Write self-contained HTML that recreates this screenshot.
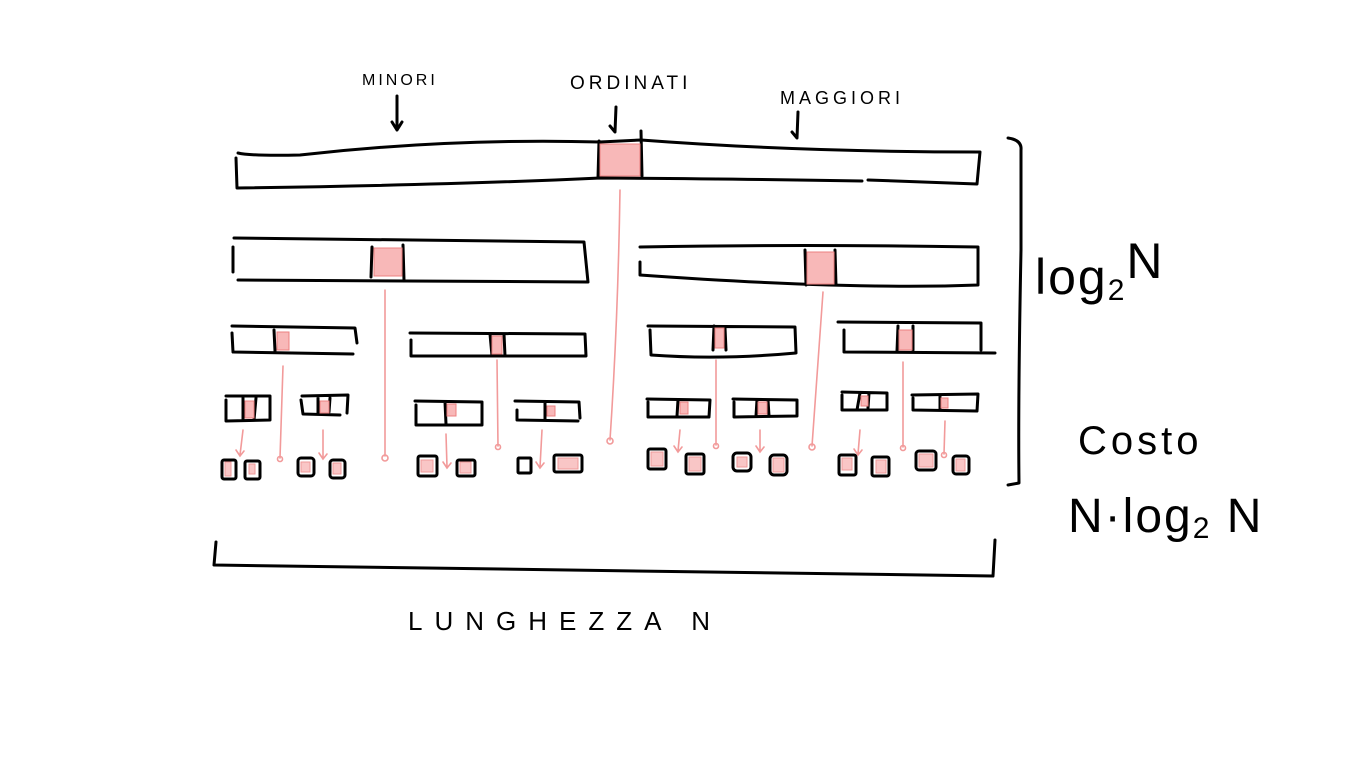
<!DOCTYPE html>
<html><head><meta charset="utf-8"><style>
html,body{margin:0;padding:0;background:#fff;width:1366px;height:768px;overflow:hidden}
svg{display:block}
.k{fill:none;stroke:#000;stroke-width:3;stroke-linecap:round;stroke-linejoin:round}
.r{fill:none;stroke:#f29a9a;stroke-width:1.6;stroke-linecap:round}
.f{fill:#f8b8b8;stroke:#ec8080;stroke-width:1}
text{font-family:"Liberation Sans",sans-serif;fill:#000}
</style></head><body>
<svg width="1366" height="768" viewBox="0 0 1366 768">
<!-- Row 1 -->
<path class="k" d="M238 153 Q250 156 300 155 Q450 138 600 142 L641 140 Q800 152 980 152 L977 184 L868 180 M862 181 Q750 179 600 178 Q450 185 237 188 L236 158"/>
<path class="k" d="M599 141 L598 178 M641 131 L642 176"/>
<rect class="f" x="600" y="144" width="40" height="32"/>
<!-- Row 2 -->
<path class="k" d="M234 238 Q400 240 584 242 L588 282 L238 280 M233 247 L233 272 M372 247 L371 277 M403 245 L404 280"/>
<rect class="f" x="374" y="248" width="28" height="28"/>
<path class="k" d="M640 247 Q800 244 978 247 L978 285 Q850 290 640 275 L640 262 M805 250 L806 285 M835 250 L836 285"/>
<rect class="f" x="807" y="252" width="27" height="32"/>
<!-- Row 3 -->
<g class="k">
<path d="M232 326 L355 328 L357 343 M232 333 L233 352 L353 354 M274 330 L275 351"/>
<path d="M410 333 L585 334 L586 356 L411 356 L411 340 M490 334 L492 356 M504 334 L505 356"/>
<path d="M648 326 L795 327 L796 353 Q720 360 651 355 L650 330 M714 326 L713 350 M725 328 L726 350"/>
<path d="M838 322 L981 323 L981 350 M844 330 L844 352 L995 353 M898 326 L897 351 M913 326 L913 350"/>
</g>
<g class="f"><rect x="277" y="332" width="12" height="18"/><rect x="492" y="336" width="10" height="18"/><rect x="715" y="328" width="9" height="20"/><rect x="899" y="330" width="13" height="20"/></g>
<!-- Row 4 -->
<g class="k">
<path d="M226 396 L270 396 L270 420 L226 421 L226 400 M243 398 L243 420 M256 398 L254 420"/>
<path d="M302 396 L348 395 L347 413 M301 400 L303 414 L340 415 M318 398 L318 414 M330 398 L329 412"/>
<path d="M415 401 L482 402 L482 425 L416 425 L416 405 M445 402 L446 424"/>
<path d="M515 401 L579 402 L580 418 M517 410 L517 420 L578 421 M545 403 L545 420"/>
<path d="M647 399 L710 400 L709 417 L648 417 L648 402 M678 400 L677 416"/>
<path d="M733 399 L797 400 L797 416 L734 417 L734 402 M757 400 L756 416 M768 400 L769 416"/>
<path d="M842 392 L887 393 L887 410 L842 410 L842 395 M860 393 L857 410 M869 393 L868 408"/>
<path d="M912 395 L978 394 L977 411 L913 410 L913 398 M940 396 L940 410"/>
</g>
<g class="f"><rect x="245" y="401" width="9" height="17"/><rect x="320" y="401" width="9" height="12"/><rect x="447" y="404" width="9" height="12"/><rect x="547" y="406" width="8" height="10"/><rect x="680" y="402" width="8" height="12"/><rect x="758" y="402" width="9" height="12"/><rect x="861" y="396" width="7" height="10"/><rect x="941" y="398" width="7" height="10"/></g>
<!-- Row 5 -->
<g class="k">
<rect x="222" y="460" width="14" height="19" rx="2"/><rect x="245" y="461" width="15" height="18" rx="2"/>
<rect x="298" y="458" width="16" height="18" rx="3"/><rect x="330" y="460" width="15" height="18" rx="3"/>
<rect x="418" y="456" width="19" height="20" rx="2"/><rect x="457" y="460" width="18" height="16" rx="2"/>
<rect x="518" y="458" width="13" height="15" rx="1"/><rect x="554" y="455" width="28" height="17" rx="2"/>
<rect x="648" y="449" width="18" height="20" rx="2"/><rect x="686" y="454" width="18" height="20" rx="2"/>
<rect x="733" y="453" width="18" height="18" rx="4"/><rect x="770" y="455" width="17" height="20" rx="4"/>
<rect x="839" y="455" width="17" height="20" rx="2"/><rect x="872" y="457" width="17" height="19" rx="2"/>
<rect x="916" y="451" width="20" height="19" rx="3"/><rect x="953" y="456" width="16" height="18" rx="3"/>
</g>
<g class="f" opacity="0.8"><rect x="225" y="462" width="6" height="14"/><rect x="249" y="464" width="6" height="10"/><rect x="301" y="462" width="9" height="10"/><rect x="333" y="463" width="8" height="11"/><rect x="421" y="460" width="12" height="12"/><rect x="460" y="462" width="11" height="11"/><rect x="558" y="458" width="20" height="11"/><rect x="651" y="452" width="12" height="14"/><rect x="689" y="457" width="12" height="14"/><rect x="737" y="457" width="10" height="10"/><rect x="773" y="458" width="11" height="14"/><rect x="842" y="458" width="10" height="12"/><rect x="876" y="460" width="10" height="13"/><rect x="919" y="454" width="14" height="13"/><rect x="956" y="459" width="9" height="12"/></g>
<!-- Red arrows -->
<g class="r">
<path d="M620 190 Q618 320 610 440"/><circle cx="610" cy="441" r="3"/>
<path d="M385 290 L385 456"/><circle cx="385" cy="458" r="3"/>
<path d="M823 292 L812 446"/><circle cx="812" cy="447" r="3"/>
<path d="M283 366 L280 458"/><circle cx="280" cy="459" r="2.5"/>
<path d="M497 360 L498 446"/><circle cx="498" cy="447" r="2.5"/>
<path d="M716 360 L716 445"/><circle cx="716" cy="446" r="2.5"/>
<path d="M903 362 L903 447"/><circle cx="903" cy="448" r="2.5"/>
<path d="M243 430 L240 455 M236 450 L240 456 L244 451"/>
<path d="M323 430 L323 458 M319 453 L323 459 L327 454"/>
<path d="M446 434 L447 467 M443 462 L447 468 L451 463"/>
<path d="M542 430 L540 467 M536 462 L540 468 L544 463"/>
<path d="M680 430 L678 451 M674 446 L678 452 L682 447"/>
<path d="M760 430 L760 451 M756 446 L760 452 L764 447"/>
<path d="M860 430 L858 454 M854 449 L858 455 L862 450"/>
<path d="M945 421 L944 454"/><circle cx="944" cy="455" r="2.5"/>
</g>
<!-- label arrows -->
<g class="k" stroke-width="2">
<path d="M397 96 L397 130 M392 122 L397 130 L402 122"/>
<path d="M616 107 L615 132 L610 126"/>
<path d="M798 112 L797 138 L792 132"/>
</g>
<!-- brackets -->
<path class="k" d="M1008 138 Q1022 140 1021 150 L1021 250 Q1018 400 1019 483 L1008 485"/>
<path class="k" d="M216 542 L214 565 Q600 572 993 576 L995 540"/>
<!-- labels -->
<text x="362" y="85" font-size="16" letter-spacing="3">MINORI</text>
<text x="570" y="89" font-size="19" letter-spacing="4">ORDINATI</text>
<text x="780" y="104" font-size="18" letter-spacing="4">MAGGIORI</text>
<text x="408" y="630" font-size="26" letter-spacing="12">LUNGHEZZA  N</text>
<text x="1035" y="294" font-size="50" letter-spacing="2">log<tspan font-size="30" dy="6">2</tspan><tspan dy="-22">N</tspan></text>
<text x="1078" y="454" font-size="40" letter-spacing="4">Costo</text>
<text x="1068" y="532" font-size="48" letter-spacing="2">N·log<tspan font-size="30" dy="6">2</tspan><tspan dy="-6"> N</tspan></text>
</svg>
</body></html>
